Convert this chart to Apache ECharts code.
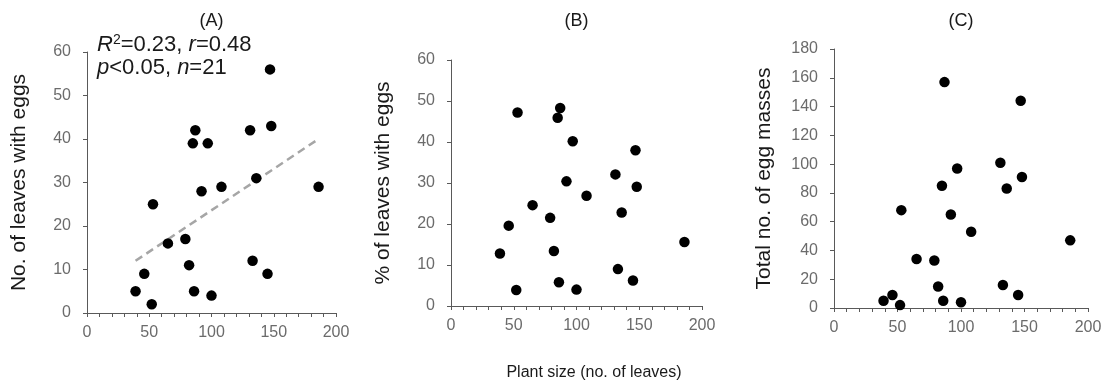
<!DOCTYPE html>
<html>
<head>
<meta charset="utf-8">
<script src="https://cdn.jsdelivr.net/npm/echarts@6/dist/echarts.min.js"></script>
<style>
  html, body { margin: 0; padding: 0; background: #fff; }
  #chart { width: 1106px; height: 387px; }
</style>
</head>
<body>
<div id="chart"></div>
<script>
// plant size (no. of leaves), shared by all three panels
var plantSize = [39, 46, 52, 53, 65, 79, 82, 85, 87, 86, 92, 97, 100, 108, 131, 133, 136, 145, 147, 148, 186];
// (A) no. of leaves with eggs
var leavesWithEggs = [5, 9, 2, 25, 16, 17, 11, 39, 42, 5, 28, 39, 4, 29, 42, 12, 31, 9, 56, 43, 29];
// (B) % of leaves with eggs
var pctWithEggs = [12.8, 19.6, 3.9, 47.2, 24.6, 21.5, 13.4, 45.9, 48.3, 5.8, 30.4, 40.2, 4.0, 26.9, 32.1, 9.0, 22.8, 6.2, 38.0, 29.1, 15.6];
// (C) total no. of egg masses
var eggMasses = [5, 9, 2, 68, 34, 33, 15, 85, 157, 5, 65, 97, 4, 53, 101, 16, 83, 9, 144, 91, 47];
// regression line ends in (A)
var trendX = [39, 186];
var trendY = [12, 40];

var panelTitles = ["(A)", "(B)", "(C)"];
var yNames = ["No. of leaves with eggs", "% of leaves with eggs", "Total no. of egg masses"];
var yMax = [60, 60, 180];
var yStep = [10, 10, 20];

var font = "Liberation Sans, Arial, sans-serif";
var axisGray = "#595959";
var labelGray = "#6b6b6b";
var textBlack = "#1a1a1a";

var grids = [
  { left: 87, top: 52, width: 249, height: 261 },
  { left: 451, top: 60, width: 251, height: 246 },
  { left: 834, top: 49, width: 254, height: 259 }
];
var nameGaps = [57, 57, 59];

function pairs(xs, ys) {
  return xs.map(function (x, i) { return [x, ys[i]]; });
}

var xAxes = grids.map(function (g, i) {
  return {
    type: "value", gridIndex: i, min: 0, max: 200, interval: 50,
    axisLine: { show: true, lineStyle: { color: axisGray, width: 1 } },
    axisTick: { show: true, length: 4, lineStyle: { color: axisGray } },
    minorTick: { show: true, splitNumber: 5, length: 4, lineStyle: { color: axisGray } },
    splitLine: { show: false },
    axisLabel: { color: labelGray, fontSize: 16, fontFamily: font, margin: 12 }
  };
});

var yAxes = grids.map(function (g, i) {
  return {
    type: "value", gridIndex: i, min: 0, max: yMax[i], interval: yStep[i],
    name: yNames[i], nameLocation: "middle", nameGap: nameGaps[i],
    nameTextStyle: { color: textBlack, fontSize: 21, fontFamily: font },
    axisLine: { show: true, lineStyle: { color: axisGray, width: 1 } },
    axisTick: { show: true, length: 4, lineStyle: { color: axisGray } },
    splitLine: { show: false },
    axisLabel: { color: labelGray, fontSize: 16, fontFamily: font, margin: 16 }
  };
});

var dotStyle = { color: "#000", opacity: 1 };

var series = [
  {
    type: "line", xAxisIndex: 0, yAxisIndex: 0,
    data: pairs(trendX, trendY), symbol: "none", z: 1,
    lineStyle: { color: "#a6a6a6", width: 2.5, type: [8, 5] }
  },
  { type: "scatter", xAxisIndex: 0, yAxisIndex: 0, data: pairs(plantSize, leavesWithEggs), symbolSize: 10.5, itemStyle: dotStyle, z: 3 },
  { type: "scatter", xAxisIndex: 1, yAxisIndex: 1, data: pairs(plantSize, pctWithEggs), symbolSize: 10.5, itemStyle: dotStyle, z: 3 },
  { type: "scatter", xAxisIndex: 2, yAxisIndex: 2, data: pairs(plantSize, eggMasses), symbolSize: 10.5, itemStyle: dotStyle, z: 3 }
];

var graphics = panelTitles.map(function (t, i) {
  return {
    type: "text", x: grids[i].left + grids[i].width / 2, y: 21,
    style: { text: t, fill: textBlack, fontSize: 18, fontFamily: font, align: "center", verticalAlign: "middle" }
  };
});
graphics.push({
  type: "text", x: 594, y: 373,
  style: { text: "Plant size (no. of leaves)", fill: textBlack, fontSize: 16, fontFamily: font, align: "center", verticalAlign: "middle" }
});
graphics.push({
  type: "text", x: 97, y: 33, z: 10,
  style: {
    text: "{i|R}{sup|2}=0.23, {i|r}=0.48\n{i|p}<0.05, {i|n}=21",
    fill: textBlack, fontSize: 22, fontFamily: font, lineHeight: 23,
    rich: {
      i: { fontStyle: "italic", fontSize: 22, fontFamily: font, fill: textBlack, lineHeight: 23 },
      sup: { fontSize: 14, fontFamily: font, fill: textBlack, lineHeight: 14, verticalAlign: "top" }
    }
  }
});

var myChart = echarts.init(document.getElementById("chart"), null, { renderer: "canvas" });
myChart.setOption({
  backgroundColor: "#fff",
  animation: false,
  grid: grids,
  xAxis: xAxes,
  yAxis: yAxes,
  series: series,
  graphic: graphics
});
</script>
</body>
</html>
